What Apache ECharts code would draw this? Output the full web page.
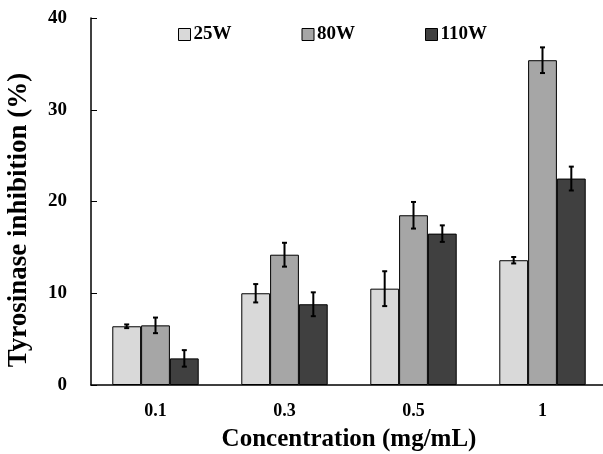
<!DOCTYPE html>
<html>
<head>
<meta charset="utf-8">
<script src="https://cdn.jsdelivr.net/npm/echarts@6/dist/echarts.min.js"></script>
<style>
  html, body { margin: 0; padding: 0; background: #fff; }
  #container { width: 603px; height: 454px; }
</style>
</head>
<body>
<div id="container"></div>
<script>
// data
var categories = ['0.1', '0.3', '0.5', '1'];
var seriesNames = ['25W', '80W', '110W'];
var w25 = [6.4, 10.0, 10.5, 13.6];
var w80 = [6.5, 14.2, 18.5, 35.4];
var w110 = [2.9, 8.8, 16.5, 22.5];
var err25 = [0.2, 1.0, 1.9, 0.35];
var err80 = [0.85, 1.3, 1.45, 1.4];
var err110 = [0.9, 1.3, 0.9, 1.3];
var yTicks = [0, 10, 20, 30, 40];

var colors = ['#d9d9d9', '#a6a6a6', '#404040'];
var font = 'Liberation Serif';
var catGap = 0.33;

var values = [w25, w80, w110];
var errors = [err25, err80, err110];

function errData(k) {
  var out = [];
  for (var i = 0; i < categories.length; i++) {
    out.push([i, values[k][i], errors[k][i]]);
  }
  return out;
}

function errorBarSeries(k) {
  return {
    type: 'custom',
    name: seriesNames[k] + ' err',
    data: errData(k),
    z: 10,
    renderItem: function (params, api) {
      var idx = api.value(0);
      var v = api.value(1);
      var e = api.value(2);
      var band = api.size([1, 0])[0];
      var barW = band * (1 - catGap) / 3;
      var c = api.coord([idx, v]);
      var x = c[0] + (k - 1) * barW;
      var hi = api.coord([idx, v + e])[1];
      var lo = api.coord([idx, v - e])[1];
      var cap = 2.5;
      var st = { stroke: '#000', lineWidth: 2 };
      return {
        type: 'group',
        children: [
          { type: 'line', shape: { x1: x, y1: hi, x2: x, y2: lo }, style: st },
          { type: 'line', shape: { x1: x - cap, y1: hi, x2: x + cap, y2: hi }, style: st },
          { type: 'line', shape: { x1: x - cap, y1: lo, x2: x + cap, y2: lo }, style: st }
        ]
      };
    }
  };
}

var dom = document.getElementById('container');
var myChart = echarts.init(dom, null, { renderer: 'canvas' });

var barSeries = seriesNames.map(function (n, k) {
  return {
    name: n,
    type: 'bar',
    data: values[k],
    barGap: '0%',
    barCategoryGap: (catGap * 100) + '%',
    itemStyle: { color: colors[k], borderColor: '#000', borderWidth: 1 }
  };
});

var option = {
  animation: false,
  backgroundColor: '#fff',
  textStyle: { fontFamily: font },
  legend: {
    data: seriesNames,
    left: 173,
    top: 20,
    icon: 'rect',
    itemWidth: 12,
    itemHeight: 12,
    itemGap: 70,
    textStyle: { fontFamily: font, fontWeight: 'bold', fontSize: 19, color: '#000', padding: [0, 0, 0, -2] },
    itemStyle: { borderColor: '#000', borderWidth: 1 }
  },
  grid: { left: 91, top: 18, right: -4, bottom: 69, containLabel: false, outerBoundsMode: 'none' },
  xAxis: {
    type: 'category',
    data: categories,
    name: 'Concentration (mg/mL)',
    nameLocation: 'middle',
    nameGap: 42,
    nameTextStyle: { fontFamily: font, fontWeight: 'bold', fontSize: 25, color: '#000' },
    axisLine: { lineStyle: { color: '#000', width: 1.5 } },
    axisTick: { inside: true, length: 6, lineStyle: { color: '#000' } },
    axisLabel: { fontFamily: font, fontWeight: 'bold', fontSize: 18, color: '#000', margin: 17 }
  },
  yAxis: {
    type: 'value',
    min: yTicks[0],
    max: yTicks[yTicks.length - 1],
    interval: 10,
    name: 'Tyrosinase inhibition (%)',
    nameLocation: 'middle',
    nameGap: 58,
    nameTextStyle: { fontFamily: font, fontWeight: 'bold', fontSize: 27, color: '#000', padding: [0, 37, 0, 0] },
    splitLine: { show: false },
    axisLine: { show: true, lineStyle: { color: '#000', width: 1.5 } },
    axisTick: { show: true, inside: true, length: 6, lineStyle: { color: '#000' } },
    axisLabel: { fontFamily: font, fontWeight: 'bold', fontSize: 19, color: '#000', margin: 24 }
  },
  series: barSeries.concat([errorBarSeries(0), errorBarSeries(1), errorBarSeries(2)])
};

myChart.setOption(option);
window.onresize = function () { myChart.resize(); };
</script>
</body>
</html>
